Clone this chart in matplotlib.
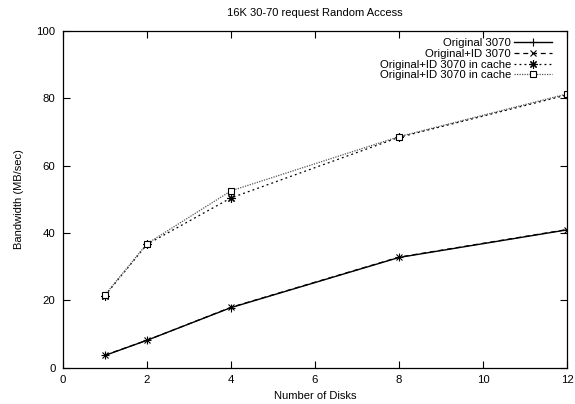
import matplotlib
matplotlib.use('Agg')
import matplotlib.pyplot as plt

plt.rcParams['font.family'] = ['Liberation Sans', 'DejaVu Sans']

disks = [1, 2, 4, 8, 12]
orig = [3.6, 8.1, 17.8, 32.7, 40.9]
orig_id = [3.7, 8.1, 17.9, 32.8, 41.0]
id_cache = [21.4, 36.6, 50.4, 68.4, 81.0]
id_cache2 = [21.6, 36.8, 52.5, 68.6, 81.3]

labels = ['Original 3070', 'Original+ID 3070',
          'Original+ID 3070 in cache', 'Original+ID 3070 in cache']

fig = plt.figure(figsize=(5.75, 4.04), dpi=100)
ax = fig.add_axes([0.1096, 0.0903, 0.8765, 0.8330])

ax.plot(disks, orig, color='black', lw=1.0, ls='-', marker='+', ms=6, mew=0.8, label=labels[0])
ax.plot(disks, orig_id, color='black', lw=0.9, ls=(0, (4, 3)), marker='x', ms=4, mew=0.8, label=labels[1])
ax.plot(disks, id_cache, color='black', lw=0.9, ls=(0, (1.5, 2.5)), marker=(8, 2, 0), ms=6, mew=0.8, label=labels[2])
ax.plot(disks, id_cache2, color='#555555', lw=0.9, ls=(0, (1, 1)), marker='s', ms=5, mew=0.8,
        mfc='white', mec='black', label=labels[3])

ax.set_xlim(0, 12)
ax.set_ylim(0, 100)
ax.set_xticks(range(0, 13, 2))
ax.set_yticks(range(0, 101, 20))
ax.tick_params(direction='in', top=True, right=True, length=5, width=0.8, labelsize=8.2, pad=5.5)
for s in ax.spines.values():
    s.set_linewidth(0.9)

ax.set_xlabel('Number of Disks', fontsize=8, labelpad=4)
ax.set_ylabel('Bandwidth (MB/sec)', fontsize=8, labelpad=9)
ax.set_title('16K 30-70 request Random Access', fontsize=8, pad=10.5)

ax.legend(loc='upper right', bbox_to_anchor=(0.970, 0.978), frameon=False, markerfirst=False,
          fontsize=8.2, handlelength=3.3, handletextpad=0.3, labelspacing=0.05,
          borderaxespad=0, borderpad=0)

fig.savefig('out.png', dpi=100)
